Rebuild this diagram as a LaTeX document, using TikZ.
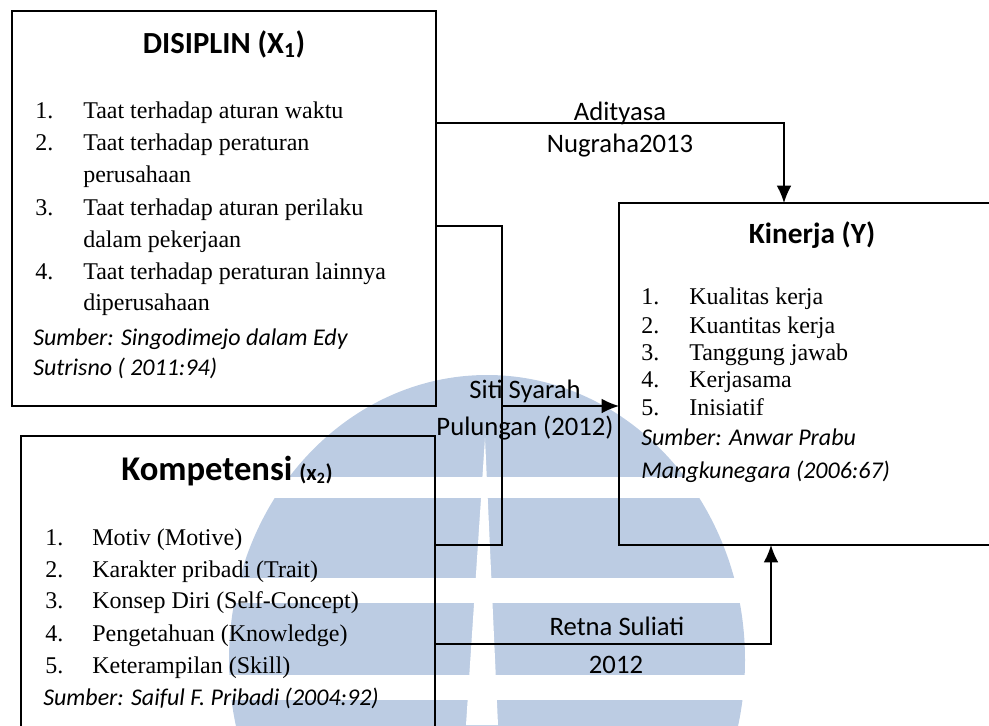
\documentclass[tikz,border=0pt]{standalone}
\usepackage{fontspec}
\setmainfont{Liberation Serif}
\newfontfamily\calfont{Carlito}
\usetikzlibrary{arrows.meta,calc}
\definecolor{wmblue}{RGB}{188,204,227}
\begin{document}
\begin{tikzpicture}[x=0.75pt,y=-0.75pt,
  boxst/.style={draw=black,line width=1.2pt,inner sep=0pt,outer sep=0pt},
  conn/.style={draw=black,line width=1.1pt},
  arr/.style={conn,-{Latex[length=13pt,width=11pt]}},
  ttl/.style={font=\calfont\bfseries\fontsize{23}{28}\selectfont,anchor=base,inner sep=0pt},
  item/.style={font=\fontsize{18}{22}\selectfont,anchor=base west,inner sep=0pt},
  src/.style={font=\calfont\itshape\fontsize{18}{22}\selectfont,anchor=base west,inner sep=0pt},
  lbl/.style={font=\calfont\fontsize{20}{24}\selectfont,anchor=base,inner sep=0pt}]
\useasboundingbox (0,0) rectangle (989,725);
\begin{scope}
\clip (0,0) rectangle (989,725);
% watermark
\fill[wmblue] (487,660) ellipse [x radius=258, y radius=285];
\fill[white] (0,477) rectangle (989,498);
\fill[white] (0,578) rectangle (989,603);
\fill[white] (0,675) rectangle (989,700);
\fill[white] (485,438) -- (498,725) -- (466,725) -- cycle;
% boxes
\node[boxst,minimum width=318pt,minimum height=296.25pt] (disiplin) at (224,208.5) {};
\node[boxst,minimum width=289.5pt,minimum height=256.5pt] (kinerja) at (812,374) {};
\node[boxst,minimum width=310.5pt,minimum height=235.5pt] (kompetensi) at (228,593) {};
\end{scope}

% DISIPLIN contents
\node[ttl] (t1) at (224,53) {DISIPLIN (X\textsubscript{1})};
\node[item] (d1n) at (35,118) {1.};
\node[item] (d1) at (83,118) {Taat terhadap aturan waktu};
\node[item] (d2n) at (35,150) {2.};
\node[item] (d2) at (83,150) {Taat terhadap peraturan};
\node[item] (d2b) at (83,182) {perusahaan};
\node[item] (d3n) at (35,215) {3.};
\node[item] (d3) at (83,215) {Taat terhadap aturan perilaku};
\node[item] (d3b) at (83,247) {dalam pekerjaan};
\node[item] (d4n) at (35,279) {4.};
\node[item] (d4) at (83,279) {Taat terhadap peraturan lainnya};
\node[item] (d4b) at (83,310) {diperusahaan};
\node[src] (ds1) at (33,345) {Sumber: Singodimejo dalam Edy};
\node[src] (ds2) at (33,375) {Sutrisno ( 2011:94)};

% Kinerja contents
\node[ttl,font=\calfont\bfseries\fontsize{22}{26}\selectfont] (t2) at (812,243) {Kinerja (Y)};
\node[item] (k1n) at (641,304) {1.};
\node[item] (k1) at (689,304) {Kualitas kerja};
\node[item] (k2n) at (641,333) {2.};
\node[item] (k2) at (689,333) {Kuantitas kerja};
\node[item] (k3n) at (641,360) {3.};
\node[item] (k3) at (689,360) {Tanggung jawab};
\node[item] (k4n) at (641,387) {4.};
\node[item] (k4) at (689,387) {Kerjasama};
\node[item] (k5n) at (641,415) {5.};
\node[item] (k5) at (689,415) {Inisiatif};
\node[src] (ks1) at (641,445) {Sumber: Anwar Prabu};
\node[src] (ks2) at (641,478) {Mangkunegara (2006:67)};

% Kompetensi contents
\node[ttl] (t3) at (227,480) {{\fontsize{26}{30}\selectfont Kompetensi} {\fontsize{17}{20}\selectfont (x\textsubscript{2})}};
\node[item] (m1n) at (45,545) {1.};
\node[item] (m1) at (92,545) {Motiv (Motive)};
\node[item] (m2n) at (45,577) {2.};
\node[item] (m2) at (92,577) {Karakter pribadi (Trait)};
\node[item] (m3n) at (45,608) {3.};
\node[item] (m3) at (92,608) {Konsep Diri (Self-Concept)};
\node[item] (m4n) at (45,641) {4.};
\node[item] (m4) at (92,641) {Pengetahuan (Knowledge)};
\node[item] (m5n) at (45,673) {5.};
\node[item] (m5) at (92,673) {Keterampilan (Skill)};
\node[src] (ms1) at (43,705) {Sumber: Saiful F. Pribadi (2004:92)};

% connectors
\coordinate (j) at (502,406);
\draw[arr] ($(disiplin.north east)+(0,112)$) -| ($(kinerja.north west)+(165,0)$);
\draw[conn] ($(disiplin.north east)+(0,215)$) -| (j) |- ($(kompetensi.north east)+(0,109)$);
\draw[arr] (j) -- (kinerja.west |- j);
\draw[arr] ($(kompetensi.north east)+(0,208)$) -| ($(kinerja.south west)+(152,0)$);

% connector labels
\node[lbl] (l1) at (620,120) {Adityasa};
\node[lbl] (l2) at (620,152) {Nugraha2013};
\node[lbl] (l3) at (525,398) {Siti Syarah};
\node[lbl] (l4) at (525,435) {Pulungan (2012)};
\node[lbl] (l5) at (617,635) {Retna Suliati};
\node[lbl] (l6) at (616,673) {2012};
\end{tikzpicture}
\end{document}
